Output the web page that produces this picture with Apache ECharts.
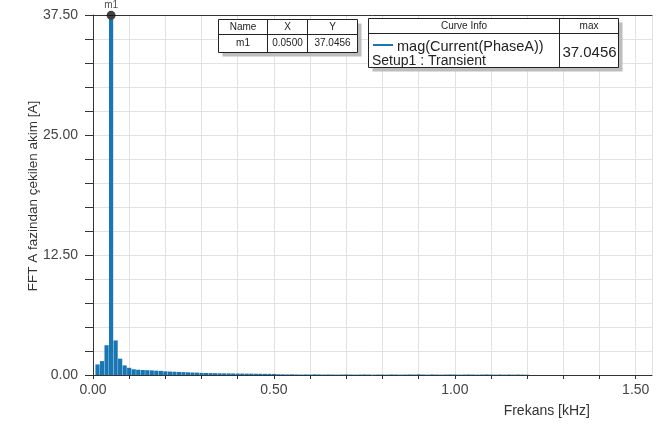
<!DOCTYPE html>
<html>
<head>
<meta charset="utf-8">
<script src="https://cdn.jsdelivr.net/npm/echarts@6/dist/echarts.min.js"></script>
<style>
  html, body { margin: 0; padding: 0; background: #fff; }
  #chart { width: 666px; height: 426px; }
</style>
</head>
<body>
<div id="chart"></div>
<script>
// FFT spectrum of phase A current, bins every 12.5 Hz (values in kHz / A)
const binStep = 0.0125;
const magnitudes = [
  0, 1.1, 1.45, 3.1, 37.0456, 3.6, 1.7, 1.0, 0.75, 0.6,
  0.55, 0.52, 0.5, 0.48, 0.45, 0.43, 0.38, 0.36, 0.34, 0.32,
  0.3, 0.28, 0.26, 0.25, 0.22, 0.21, 0.2, 0.19, 0.18, 0.17,
  0.17, 0.16, 0.15, 0.15, 0.14, 0.14, 0.13, 0.13, 0.12, 0.12,
  0.11, 0.08, 0.07, 0.06, 0.07, 0.06, 0.05, 0.06, 0.05, 0.07,
  0.06, 0.05, 0.06, 0.05, 0.04, 0.05, 0.06, 0.05, 0.04, 0.05,
  0.06, 0.05, 0.04, 0.05, 0.05, 0.04, 0.06, 0.05, 0.04, 0.05,
  0.06, 0.05, 0.07, 0.05, 0.04, 0.06, 0.05, 0.04, 0.05, 0.06,
  0.05, 0.04, 0.05, 0.06, 0.05, 0.04, 0.05, 0.06, 0.05, 0.04,
  0.05, 0.04, 0.05, 0.04, 0.05, 0.04, 0.03
];
const frequencies = magnitudes.map((_, i) => +(i * binStep).toFixed(4));

// Marker m1
const markerName = 'm1';
const markerX = 0.05;
const markerY = 37.0456;

// Legend / curve info
const curveName = 'mag(Current(PhaseA))';
const setupName = 'Setup1 : Transient';

const xAxisName = 'Frekans [kHz]';
const yAxisName = 'FFT A fazindan çekilen akim [A]';

const barColor = '#1877b3';
const font = '"Liberation Sans", Arial, sans-serif';

const maxValue = Math.max(...magnitudes);

const chart = echarts.init(document.getElementById('chart'), null, { renderer: 'canvas' });

function isMultiple(v, step) {
  return Math.abs(v / step - Math.round(v / step)) < 1e-6;
}

const textCol = '#222';

function cell(x, y, text, size) {
  return {
    type: 'text', x: x, y: y,
    style: { text: text, font: size + 'px ' + font, fill: textCol, align: 'center', verticalAlign: 'middle' },
    z: 20
  };
}
function hline(x1, x2, y) {
  return { type: 'line', shape: { x1: x1, y1: y, x2: x2, y2: y }, style: { stroke: '#222', lineWidth: 1 }, z: 20 };
}
function vline(x, y1, y2) {
  return { type: 'line', shape: { x1: x, y1: y1, x2: x, y2: y2 }, style: { stroke: '#222', lineWidth: 1 }, z: 20 };
}
function boxWithShadow(x, y, w, h) {
  return [
    { type: 'rect', shape: { x: x + 4, y: y + 4, width: w, height: h }, style: { fill: '#bdbdbd' }, z: 18 },
    { type: 'rect', shape: { x: x, y: y, width: w, height: h }, style: { fill: '#fff', stroke: '#222', lineWidth: 1 }, z: 19 }
  ];
}

const graphics = [].concat(
  // vertical axis title
  [{
    type: 'text', x: 33, y: 196, rotation: Math.PI / 2,
    style: { text: yAxisName, font: '13.5px ' + font, fill: '#333', align: 'center', verticalAlign: 'middle' },
    z: 20
  }],
  // marker table
  boxWithShadow(218.5, 19.5, 139, 33),
  [
    hline(218.5, 357.5, 34.5),
    vline(267.5, 19.5, 52.5),
    vline(307.5, 19.5, 52.5),
    cell(243, 27, 'Name', 10),
    cell(287.5, 27, 'X', 10),
    cell(332.5, 27, 'Y', 10),
    cell(243, 43.5, markerName, 10),
    cell(287.5, 43.5, markerX.toFixed(4), 10),
    cell(332.5, 43.5, markerY.toFixed(4), 10)
  ],
  // curve info table
  boxWithShadow(368.5, 18.5, 250, 49),
  [
    hline(368.5, 618.5, 33.5),
    vline(559.5, 18.5, 67.5),
    cell(464, 26, 'Curve Info', 10),
    cell(589, 26, 'max', 10),
    { type: 'line', shape: { x1: 373, y1: 45, x2: 393, y2: 45 }, style: { stroke: barColor, lineWidth: 2 }, z: 20 },
    { type: 'text', x: 397, y: 47, style: { text: curveName, font: '14.5px ' + font, fill: textCol, align: 'left', verticalAlign: 'middle' }, z: 20 },
    { type: 'text', x: 372, y: 61, style: { text: setupName, font: '14px ' + font, fill: textCol, align: 'left', verticalAlign: 'middle' }, z: 20 },
    cell(589.5, 53, maxValue.toFixed(4), 15)
  ]
);

const option = {
  backgroundColor: '#fff',
  animation: false,
  textStyle: { fontFamily: font },
  grid: { left: 93, right: 14, top: 15, bottom: 51, containLabel: false },
  xAxis: [
    {
      type: 'value',
      min: 0,
      max: 1.545,
      interval: 0.1,
      name: xAxisName,
      nameLocation: 'end',
      nameGap: 0,
      nameTextStyle: {
        fontSize: 14, color: '#333', fontFamily: font,
        align: 'right', verticalAlign: 'top', padding: [29, 62, 0, 0]
      },
      axisLine: { show: true, onZero: false, lineStyle: { color: '#333', width: 1 } },
      axisTick: { show: true, length: 4, inside: false, lineStyle: { color: '#333' } },
      axisLabel: {
        show: true, margin: 8, fontSize: 14, color: '#444', fontFamily: font,
        showMaxLabel: false,
        formatter: v => isMultiple(v, 0.5) ? v.toFixed(2) : ''
      },
      splitLine: { show: true, lineStyle: { color: '#e2e2e2', width: 1 } }
    },
    {
      type: 'value',
      position: 'top',
      min: 0,
      max: 1.545,
      axisLine: { show: true, onZero: false, lineStyle: { color: '#333', width: 1 } },
      axisTick: { show: false },
      axisLabel: { show: false },
      splitLine: { show: false }
    }
  ],
  yAxis: {
    type: 'value',
    min: 0,
    max: 37.5,
    interval: 2.5,
    axisLine: { show: true, lineStyle: { color: '#333', width: 1 } },
    axisTick: { show: true, length: 8, inside: false, lineStyle: { color: '#333' } },
    axisLabel: {
      show: true, margin: 15, fontSize: 14, color: '#444', fontFamily: font,
      formatter: v => isMultiple(v, 12.5) ? v.toFixed(2) : ''
    },
    splitLine: { show: true, lineStyle: { color: '#e2e2e2', width: 1 } }
  },
  series: [
    {
      type: 'bar',
      name: curveName,
      data: frequencies.map((f, i) => [f, magnitudes[i]]),
      barWidth: 4.2,
      itemStyle: { color: barColor },
      clip: true,
      z: 5
    },
    {
      type: 'scatter',
      name: markerName,
      data: [[markerX, markerY]],
      symbol: 'circle',
      symbolSize: 9,
      symbolOffset: [0, -4],
      itemStyle: { color: '#111' },
      label: {
        show: true, position: 'top', distance: 1,
        formatter: markerName, fontSize: 10, color: '#222', fontFamily: font
      },
      z: 10
    }
  ],
  graphic: graphics
};

chart.setOption(option);
</script>
</body>
</html>
